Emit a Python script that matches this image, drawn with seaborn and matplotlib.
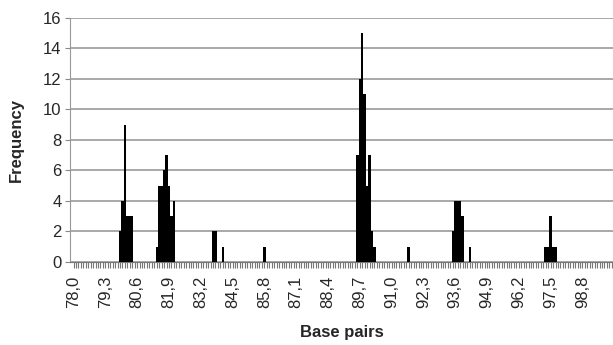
import numpy as np
import pandas as pd
import matplotlib
matplotlib.use("Agg")
import matplotlib.pyplot as plt
import seaborn as sns

# base pair bins (0.1 bp wide) from 78,0 to 100,0
bp_start, bp_stop = 780, 1000   # in tenths

# bins with a non-zero count
peak_bp = [79.9, 80.0, 80.1, 80.2, 80.3, 80.4,
           81.4, 81.5, 81.6, 81.7, 81.8, 81.9, 82.0, 82.1,
           83.7, 83.8, 84.1, 85.8,
           89.6, 89.7, 89.8, 89.9, 90.0, 90.1, 90.2, 90.3,
           91.7,
           93.5, 93.6, 93.7, 93.8, 93.9, 94.2,
           97.3, 97.4, 97.5, 97.6, 97.7]
peak_freq = [2, 4, 9, 3, 3, 3,
             1, 5, 5, 6, 7, 5, 3, 4,
             2, 2, 1, 1,
             7, 12, 15, 11, 5, 7, 2, 1,
             1,
             2, 4, 4, 4, 3, 1,
             1, 1, 3, 1, 1]

tick_labels = ["78,0", "79,3", "80,6", "81,9", "83,2", "84,5", "85,8",
               "87,1", "88,4", "89,7", "91,0", "92,3", "93,6", "94,9",
               "96,2", "97,5", "98,8"]

bins = [round(t / 10, 1) for t in range(bp_start, bp_stop + 1)]
freq = dict(zip(peak_bp, peak_freq))
df = pd.DataFrame({"bp": [f"{b:.1f}" for b in bins],
                   "freq": [freq.get(b, 0) for b in bins]})

sns.set_style("white")
plt.rcParams["font.family"] = ["Liberation Sans", "DejaVu Sans"]

fig = plt.figure(figsize=(6.13, 3.45), dpi=100)
ax = fig.add_axes([0.114, 0.241, 0.886, 0.707])

sns.barplot(data=df, x="bp", y="freq", color="black", saturation=1,
            width=1.0, edgecolor="none", ax=ax, zorder=3)

n = len(bins)
ax.set_xlim(-1.5, n - 0.5)
ax.set_ylim(0, 16)
ax.set_yticks(range(0, 17, 2))
ax.tick_params(axis="y", labelsize=12, length=3.5, pad=2.5, color="#888888",
               direction="out", left=True)
ax.set_xticks(range(0, n, 13)[:len(tick_labels)])
ax.set_xticklabels(tick_labels, rotation=90, fontsize=12)
ax.set_xticks(range(n), minor=True)
ax.tick_params(axis="x", which="both", length=4, color="#777777", width=0.8,
               direction="out", bottom=True, pad=6)
ax.grid(axis="y", color="#999999", linewidth=1.2, zorder=0)

for s in ["top", "right"]:
    ax.spines[s].set_visible(False)
ax.spines["left"].set_color("#999999")
ax.spines["bottom"].set_color("#777777")

ax.set_xlabel("Base pairs", fontsize=12, fontweight="bold", labelpad=12)
ax.set_ylabel("Frequency", fontsize=12, fontweight="bold", labelpad=14)

fig.savefig("out.png", dpi=100)
